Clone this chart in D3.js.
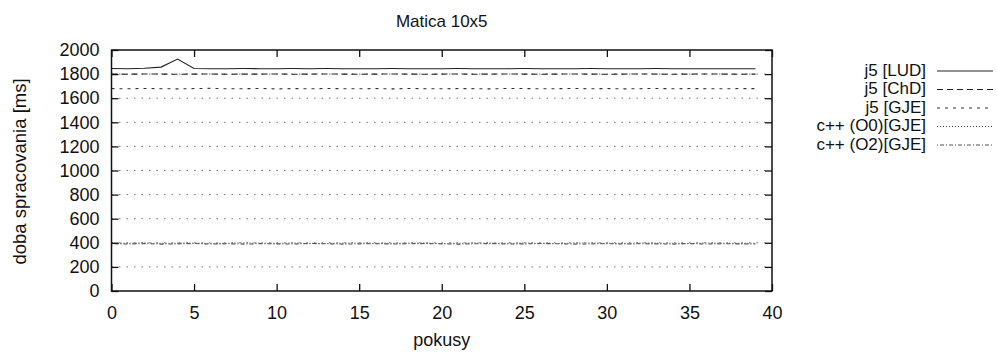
<!DOCTYPE html>
<html>
<head>
<meta charset="utf-8">
<script src="https://cdn.jsdelivr.net/npm/d3@7"></script>
<style>
  html, body { margin: 0; padding: 0; background: #fff; }
  svg { display: block; font-family: "Liberation Sans", Arial, sans-serif; }
</style>
</head>
<body>
<svg id="chart" width="997" height="354"></svg>
<script>
// ---- data ----
const attempts = d3.range(0, 40);
const ludValues = [1846,1845,1848,1858,1925,1846,1845,1844,1846,1845,1844,1846,1845,1846,1845,1844,1845,1846,1845,1844,
                   1845,1846,1845,1844,1845,1846,1845,1844,1845,1846,1845,1844,1845,1846,1845,1844,1845,1844,1845,1845];
const chdValues = [1800,1799,1801,1800,1799,1800,1801,1799,1800,1800,1801,1799,1800,1801,1800,1799,1800,1801,1800,1799,
                   1800,1801,1799,1800,1801,1800,1799,1800,1801,1800,1799,1800,1801,1800,1799,1800,1801,1800,1799,1800];
const gjeValues = [1680,1678,1681,1679,1677,1680,1682,1678,1679,1681,1677,1680,1678,1681,1679,1678,1680,1677,1681,1679,
                   1678,1680,1679,1677,1681,1680,1678,1679,1681,1678,1680,1677,1679,1681,1678,1680,1679,1678,1680,1679];
const cppO0Values = [398,396,399,395,397,398,394,396,399,397,395,398,396,394,397,399,396,395,398,397,
                     394,396,399,397,395,398,396,394,397,399,396,395,398,397,396,394,398,397,395,396];
const cppO2Values = [392,390,393,389,391,394,390,392,389,393,391,390,394,392,389,391,393,390,392,394,
                     391,389,392,393,390,391,394,392,389,391,393,390,392,391,389,393,390,392,391,390];
const seriesNames = ["j5 [LUD]", "j5 [ChD]", "j5 [GJE]", "c++ (O0)[GJE]", "c++ (O2)[GJE]"];
const xTicks = [0,5,10,15,20,25,30,35,40];
const yTicks = [0,200,400,600,800,1000,1200,1400,1600,1800,2000];
const titleText = "Matica 10x5";
const xLabel = "pokusy";
const yLabel = "doba spracovania [ms]";

// ---- styles ----
const seriesValues = [ludValues, chdValues, gjeValues, cppO0Values, cppO2Values];
const dashes = [null, "6,4", "3,5", "1,2", "1,2,4,2"];
const strokes = ["#222", "#222", "#333", "#444", "#555"];
const widths = [1.1, 1.1, 1.1, 1.1, 1.1];

const svg = d3.select("#chart");
const L = 111.5, R = 772, T = 50, B = 291;
const x = d3.scaleLinear().domain([0, 40]).range([L, R]);
const y = d3.scaleLinear().domain([0, 2000]).range([B, T]);

// grid (horizontal dotted)
svg.append("g").selectAll("line").data(yTicks.filter(t => t > 0 && t < 2000)).join("line")
  .attr("x1", L).attr("x2", R)
  .attr("y1", d => y(d)).attr("y2", d => y(d))
  .attr("stroke", "#666").attr("stroke-width", 0.9)
  .attr("stroke-dasharray", "1.5,6");

// series
const line = d3.line().x((d, i) => x(attempts[i])).y(d => y(d));
seriesValues.forEach((vals, k) => {
  svg.append("path").datum(vals)
    .attr("d", line)
    .attr("fill", "none")
    .attr("stroke", strokes[k])
    .attr("stroke-width", widths[k])
    .attr("stroke-dasharray", dashes[k]);
});

// axes (ticks inward, mirrored)
const fs = "18px";
const axL = svg.append("g").attr("transform", `translate(${L},0)`)
  .call(d3.axisLeft(y).tickValues(yTicks).tickSizeInner(-7).tickSizeOuter(0).tickPadding(12).tickFormat(d3.format("d")));
const axB = svg.append("g").attr("transform", `translate(0,${B})`)
  .call(d3.axisBottom(x).tickValues(xTicks).tickSizeInner(-7).tickSizeOuter(0).tickPadding(15).tickFormat(d3.format("d")));
const axR = svg.append("g").attr("transform", `translate(${R},0)`)
  .call(d3.axisRight(y).tickValues(yTicks).tickSizeInner(-7).tickSizeOuter(0).tickFormat(""));
const axT = svg.append("g").attr("transform", `translate(0,${T})`)
  .call(d3.axisTop(x).tickValues(xTicks).tickSizeInner(-7).tickSizeOuter(0).tickFormat(""));
[axL, axB, axR, axT].forEach(a => {
  a.select(".domain").remove();
  a.selectAll("line").attr("stroke", "#111").attr("stroke-width", 1.3);
  a.selectAll("text").attr("font-size", fs).attr("fill", "#111")
    .attr("font-family", "'Liberation Sans', Arial, sans-serif");
});

// frame
svg.append("rect").attr("x", L).attr("y", T).attr("width", R - L).attr("height", B - T)
  .attr("fill", "none").attr("stroke", "#111").attr("stroke-width", 1.5);

// title & labels
svg.append("text").attr("x", (L + R) / 2).attr("y", 27).attr("text-anchor", "middle")
  .attr("font-size", "17px").attr("fill", "#111").text(titleText);
svg.append("text").attr("x", (L + R) / 2).attr("y", 346).attr("text-anchor", "middle")
  .attr("font-size", fs).attr("fill", "#111").text(xLabel);
svg.append("text").attr("transform", `translate(19,${(T + B) / 2 + 1}) rotate(-90)`)
  .attr("text-anchor", "middle").attr("dominant-baseline", "central")
  .attr("font-size", "18.5px").attr("fill", "#111").text(yLabel);

// legend
const legY = [70, 88.5, 107, 125.5, 144];
seriesNames.forEach((name, k) => {
  const g = svg.append("g");
  g.append("text").attr("x", 926).attr("y", legY[k]).attr("text-anchor", "end")
    .attr("dominant-baseline", "central").attr("font-size", "17px").attr("fill", "#111").text(name);
  g.append("line").attr("x1", 937).attr("x2", 993).attr("y1", legY[k] + 1).attr("y2", legY[k] + 1)
    .attr("stroke", strokes[k]).attr("stroke-width", widths[k]).attr("stroke-dasharray", dashes[k]);
});
</script>
</body>
</html>
